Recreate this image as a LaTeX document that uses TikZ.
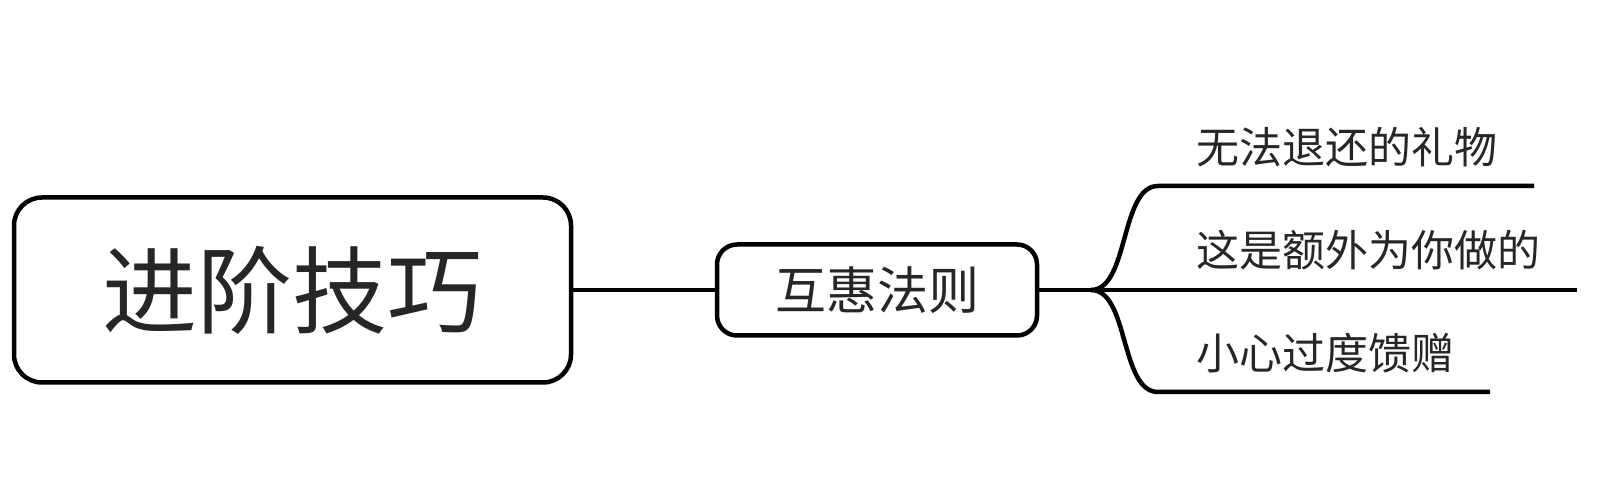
\documentclass[tikz,border=0pt]{standalone}
\usepackage{fontspec}
\setmainfont{Noto Sans CJK SC}
\usetikzlibrary{positioning,calc}

\begin{document}
\begin{tikzpicture}[x=1pt, y=1pt, line width=4.5pt,
  rootbox/.style={draw, rounded corners=28pt, minimum width=557pt, minimum height=185pt,
    inner sep=0pt, text=black!85, font=\fontsize{95}{100}\selectfont},
  topicbox/.style={draw, rounded corners=20pt, minimum width=320pt, minimum height=91pt,
    inner sep=0pt, text=black!85, font=\fontsize{51}{56}\selectfont},
  leaf/.style={anchor=west, inner sep=0pt, text=black!85, font=\fontsize{43}{48}\selectfont}]
  \useasboundingbox (0,0) rectangle (1614,498);

  % ---- root and topic ----
  \node[rootbox] (root) at (292.5,208) {进阶技巧};
  \node[topicbox] (topic) at (877,208) {互惠法则};
  \draw (root.east) -- (topic.west);

  % ---- branches ----
  \coordinate (fork) at (1091,208);
  \coordinate (giftA) at (1158,312);  \coordinate (giftB) at (1534,312);
  \coordinate (extraB) at (1577,208);
  \coordinate (careA) at (1158,106);  \coordinate (careB) at (1490,106);
  \draw (topic.east) -- (fork);
  \draw (fork) .. controls +(38,0) and +(-38,0) .. (giftA) -- (giftB);
  \draw (fork) -- (extraB);
  \draw (fork) .. controls +(38,0) and +(-38,0) .. (careA) -- (careB);

  % ---- labels ----
  \node[leaf] (gift) at (1194,351) {无法退还的礼物};
  \node[leaf] (extra) at (1194,248) {这是额外为你做的};
  \node[leaf] (care) at (1194,145) {小心过度馈赠};
\end{tikzpicture}
\end{document}
